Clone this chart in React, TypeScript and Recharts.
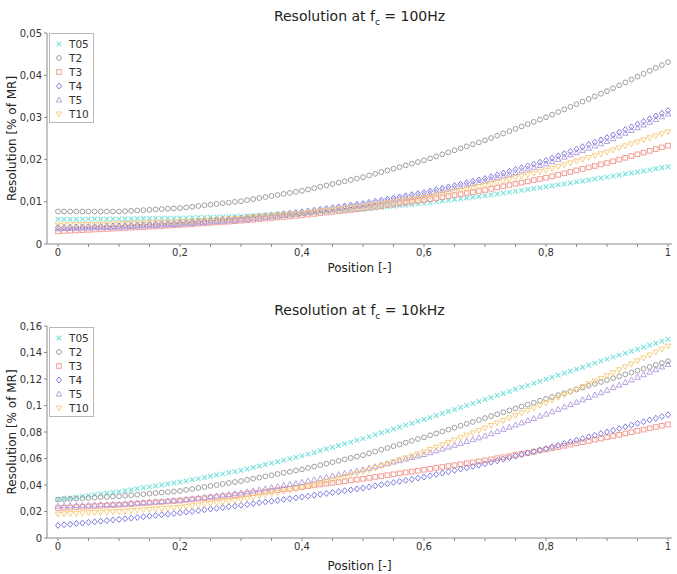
import React from 'react';
import { ScatterChart, Scatter, XAxis, YAxis, Legend } from 'recharts';

// position along the sensor, 0..1
const positions = [
  0, 0.01, 0.02, 0.03, 0.04, 0.05, 0.06, 0.07, 0.08, 0.09,
  0.1, 0.11, 0.12, 0.13, 0.14, 0.15, 0.16, 0.17, 0.18, 0.19,
  0.2, 0.21, 0.22, 0.23, 0.24, 0.25, 0.26, 0.27, 0.28, 0.29,
  0.3, 0.31, 0.32, 0.33, 0.34, 0.35, 0.36, 0.37, 0.38, 0.39,
  0.4, 0.41, 0.42, 0.43, 0.44, 0.45, 0.46, 0.47, 0.48, 0.49,
  0.5, 0.51, 0.52, 0.53, 0.54, 0.55, 0.56, 0.57, 0.58, 0.59,
  0.6, 0.61, 0.62, 0.63, 0.64, 0.65, 0.66, 0.67, 0.68, 0.69,
  0.7, 0.71, 0.72, 0.73, 0.74, 0.75, 0.76, 0.77, 0.78, 0.79,
  0.8, 0.81, 0.82, 0.83, 0.84, 0.85, 0.86, 0.87, 0.88, 0.89,
  0.9, 0.91, 0.92, 0.93, 0.94, 0.95, 0.96, 0.97, 0.98, 0.99,
  1,
];

// resolution at fc = 100Hz
const lowT05 = [
  0.00585, 0.00586, 0.00587, 0.00588, 0.00589, 0.0059, 0.00591, 0.00592, 0.00593, 0.00594,
  0.00595, 0.00597, 0.00599, 0.00601, 0.00603, 0.00605, 0.00607, 0.00609, 0.00611, 0.00613,
  0.00615, 0.00619, 0.00623, 0.00627, 0.00631, 0.00635, 0.00639, 0.00643, 0.00647, 0.00651,
  0.00655, 0.00662, 0.00669, 0.00676, 0.00683, 0.0069, 0.00697, 0.00704, 0.00711, 0.00718,
  0.00725, 0.00735, 0.00745, 0.00755, 0.00765, 0.00775, 0.00785, 0.00795, 0.00805, 0.00815,
  0.00825, 0.00839, 0.00853, 0.00867, 0.00881, 0.00895, 0.00909, 0.00923, 0.00937, 0.00951,
  0.00965, 0.00983, 0.01001, 0.01019, 0.01037, 0.01055, 0.01073, 0.01091, 0.01109, 0.01127,
  0.01145, 0.01166, 0.01187, 0.01208, 0.01229, 0.0125, 0.01271, 0.01292, 0.01313, 0.01334,
  0.01355, 0.01378, 0.01401, 0.01424, 0.01447, 0.0147, 0.01493, 0.01516, 0.01539, 0.01562,
  0.01585, 0.0161, 0.01634, 0.01659, 0.01683, 0.01708, 0.01732, 0.01757, 0.01781, 0.01806,
  0.0183,
];
const lowT2 = [
  0.0077, 0.0077, 0.0077, 0.0077, 0.0077, 0.0077, 0.0077, 0.0077, 0.0077, 0.0077,
  0.0077, 0.00778, 0.00786, 0.00794, 0.00802, 0.00811, 0.00819, 0.00827, 0.00835, 0.00843,
  0.00851, 0.00867, 0.00884, 0.009, 0.00917, 0.00933, 0.00949, 0.00966, 0.00982, 0.00999,
  0.01015, 0.0104, 0.01064, 0.01089, 0.01113, 0.01138, 0.01162, 0.01187, 0.01211, 0.01236,
  0.0126, 0.01292, 0.01325, 0.01357, 0.01389, 0.01422, 0.01454, 0.01486, 0.01518, 0.01551,
  0.01583, 0.01623, 0.01663, 0.01703, 0.01743, 0.01783, 0.01822, 0.01862, 0.01902, 0.01942,
  0.01982, 0.02029, 0.02077, 0.02124, 0.02172, 0.02219, 0.02266, 0.02314, 0.02361, 0.02409,
  0.02456, 0.02511, 0.02566, 0.0262, 0.02675, 0.0273, 0.02785, 0.0284, 0.02894, 0.02949,
  0.03004, 0.03066, 0.03128, 0.03189, 0.03251, 0.03313, 0.03375, 0.03437, 0.03498, 0.0356,
  0.03622, 0.03691, 0.0376, 0.03828, 0.03897, 0.03966, 0.04035, 0.04104, 0.04172, 0.04241,
  0.0431,
];
const lowT3 = [
  0.003, 0.00307, 0.00314, 0.00321, 0.00328, 0.00335, 0.00342, 0.00349, 0.00356, 0.00363,
  0.0037, 0.00378, 0.00386, 0.00394, 0.00402, 0.0041, 0.00418, 0.00426, 0.00434, 0.00442,
  0.0045, 0.0046, 0.0047, 0.0048, 0.0049, 0.005, 0.0051, 0.0052, 0.0053, 0.0054,
  0.0055, 0.00563, 0.00576, 0.00589, 0.00602, 0.00615, 0.00628, 0.00641, 0.00654, 0.00667,
  0.0068, 0.00696, 0.00712, 0.00728, 0.00744, 0.0076, 0.00776, 0.00792, 0.00808, 0.00824,
  0.0084, 0.0086, 0.0088, 0.009, 0.0092, 0.0094, 0.0096, 0.0098, 0.01, 0.0102,
  0.0104, 0.01064, 0.01088, 0.01112, 0.01136, 0.0116, 0.01184, 0.01208, 0.01232, 0.01256,
  0.0128, 0.01309, 0.01338, 0.01367, 0.01396, 0.01425, 0.01454, 0.01483, 0.01512, 0.01541,
  0.0157, 0.01605, 0.0164, 0.01675, 0.0171, 0.01745, 0.0178, 0.01815, 0.0185, 0.01885,
  0.0192, 0.01961, 0.02002, 0.02043, 0.02084, 0.02125, 0.02166, 0.02207, 0.02248, 0.02289,
  0.0233,
];
const lowT4 = [
  0.0039, 0.00394, 0.00398, 0.00402, 0.00406, 0.0041, 0.00414, 0.00418, 0.00422, 0.00426,
  0.0043, 0.00437, 0.00444, 0.00451, 0.00458, 0.00465, 0.00472, 0.00479, 0.00486, 0.00493,
  0.005, 0.00511, 0.00522, 0.00533, 0.00544, 0.00555, 0.00566, 0.00577, 0.00588, 0.00599,
  0.0061, 0.00625, 0.0064, 0.00655, 0.0067, 0.00685, 0.007, 0.00715, 0.0073, 0.00745,
  0.0076, 0.0078, 0.008, 0.0082, 0.0084, 0.0086, 0.0088, 0.009, 0.0092, 0.0094,
  0.0096, 0.00986, 0.01012, 0.01038, 0.01064, 0.0109, 0.01116, 0.01142, 0.01168, 0.01194,
  0.0122, 0.01253, 0.01286, 0.01319, 0.01352, 0.01385, 0.01418, 0.01451, 0.01484, 0.01517,
  0.0155, 0.01593, 0.01636, 0.01679, 0.01722, 0.01765, 0.01808, 0.01851, 0.01894, 0.01937,
  0.0198, 0.02034, 0.02088, 0.02142, 0.02196, 0.0225, 0.02304, 0.02358, 0.02412, 0.02466,
  0.0252, 0.02584, 0.02648, 0.02712, 0.02776, 0.0284, 0.02904, 0.02968, 0.03032, 0.03096,
  0.0316,
];
const lowT5 = [
  0.0036, 0.00364, 0.00368, 0.00372, 0.00376, 0.0038, 0.00384, 0.00388, 0.00392, 0.00396,
  0.004, 0.00407, 0.00414, 0.00421, 0.00428, 0.00435, 0.00442, 0.00449, 0.00456, 0.00463,
  0.0047, 0.0048, 0.0049, 0.005, 0.0051, 0.0052, 0.0053, 0.0054, 0.0055, 0.0056,
  0.0057, 0.00585, 0.006, 0.00615, 0.0063, 0.00645, 0.0066, 0.00675, 0.0069, 0.00705,
  0.0072, 0.0074, 0.0076, 0.0078, 0.008, 0.0082, 0.0084, 0.0086, 0.0088, 0.009,
  0.0092, 0.00945, 0.0097, 0.00995, 0.0102, 0.01045, 0.0107, 0.01095, 0.0112, 0.01145,
  0.0117, 0.01202, 0.01234, 0.01266, 0.01298, 0.0133, 0.01362, 0.01394, 0.01426, 0.01458,
  0.0149, 0.01531, 0.01572, 0.01613, 0.01654, 0.01695, 0.01736, 0.01777, 0.01818, 0.01859,
  0.019, 0.01953, 0.02006, 0.02059, 0.02112, 0.02165, 0.02218, 0.02271, 0.02324, 0.02377,
  0.0243, 0.02495, 0.0256, 0.02625, 0.0269, 0.02755, 0.0282, 0.02885, 0.0295, 0.03015,
  0.0308,
];
const lowT10 = [
  0.0045, 0.00453, 0.00456, 0.00459, 0.00462, 0.00465, 0.00468, 0.00471, 0.00474, 0.00477,
  0.0048, 0.00485, 0.0049, 0.00495, 0.005, 0.00505, 0.0051, 0.00515, 0.0052, 0.00525,
  0.0053, 0.00538, 0.00546, 0.00554, 0.00562, 0.0057, 0.00578, 0.00586, 0.00594, 0.00602,
  0.0061, 0.00622, 0.00634, 0.00646, 0.00658, 0.0067, 0.00682, 0.00694, 0.00706, 0.00718,
  0.0073, 0.00746, 0.00762, 0.00778, 0.00794, 0.0081, 0.00826, 0.00842, 0.00858, 0.00874,
  0.0089, 0.00911, 0.00932, 0.00953, 0.00974, 0.00995, 0.01016, 0.01037, 0.01058, 0.01079,
  0.011, 0.01129, 0.01158, 0.01187, 0.01216, 0.01245, 0.01274, 0.01303, 0.01332, 0.01361,
  0.0139, 0.01426, 0.01462, 0.01498, 0.01534, 0.0157, 0.01606, 0.01642, 0.01678, 0.01714,
  0.0175, 0.01793, 0.01836, 0.01879, 0.01922, 0.01965, 0.02008, 0.02051, 0.02094, 0.02137,
  0.0218, 0.02228, 0.02276, 0.02324, 0.02372, 0.0242, 0.02468, 0.02516, 0.02564, 0.02612,
  0.0266,
];

// resolution at fc = 10kHz
const highT05 = [
  0.029, 0.0296, 0.0302, 0.0308, 0.0314, 0.032, 0.0326, 0.0332, 0.0338, 0.0344,
  0.035, 0.0357, 0.0364, 0.0372, 0.0379, 0.0386, 0.0393, 0.04, 0.0408, 0.0415,
  0.0422, 0.0431, 0.044, 0.0448, 0.0457, 0.0466, 0.0475, 0.0484, 0.0492, 0.0501,
  0.051, 0.0521, 0.0532, 0.0543, 0.0554, 0.0565, 0.0576, 0.0587, 0.0598, 0.0609,
  0.062, 0.0633, 0.0646, 0.0659, 0.0672, 0.0685, 0.0698, 0.0711, 0.0724, 0.0737,
  0.075, 0.0765, 0.0779, 0.0794, 0.0808, 0.0823, 0.0837, 0.0852, 0.0866, 0.0881,
  0.0895, 0.091, 0.0925, 0.094, 0.0955, 0.097, 0.0985, 0.1, 0.1015, 0.103,
  0.1045, 0.106, 0.1076, 0.1091, 0.1106, 0.1122, 0.1137, 0.1152, 0.1167, 0.1183,
  0.1198, 0.1213, 0.1228, 0.1244, 0.1259, 0.1274, 0.1289, 0.1304, 0.132, 0.1335,
  0.135, 0.1365, 0.138, 0.1395, 0.141, 0.1425, 0.144, 0.1455, 0.147, 0.1485,
  0.15,
];
const highT2 = [
  0.029, 0.0293, 0.0295, 0.0298, 0.03, 0.0303, 0.0305, 0.0308, 0.031, 0.0313,
  0.0315, 0.0319, 0.0323, 0.0327, 0.0331, 0.0335, 0.0339, 0.0343, 0.0347, 0.0351,
  0.0355, 0.0363, 0.037, 0.0378, 0.0385, 0.0393, 0.04, 0.0408, 0.0415, 0.0423,
  0.043, 0.0439, 0.0448, 0.0456, 0.0465, 0.0474, 0.0483, 0.0492, 0.05, 0.0509,
  0.0518, 0.0529, 0.0539, 0.055, 0.0561, 0.0572, 0.0582, 0.0593, 0.0604, 0.0614,
  0.0625, 0.0639, 0.0652, 0.0666, 0.0679, 0.0693, 0.0706, 0.072, 0.0733, 0.0747,
  0.076, 0.0775, 0.0789, 0.0804, 0.0818, 0.0833, 0.0847, 0.0862, 0.0876, 0.0891,
  0.0905, 0.092, 0.0934, 0.0949, 0.0963, 0.0978, 0.0992, 0.1007, 0.1021, 0.1036,
  0.105, 0.1064, 0.1078, 0.1093, 0.1107, 0.1121, 0.1135, 0.1149, 0.1164, 0.1178,
  0.1192, 0.1206, 0.122, 0.1235, 0.1249, 0.1263, 0.1277, 0.1291, 0.1306, 0.132,
  0.1334,
];
const highT3 = [
  0.0225, 0.0228, 0.023, 0.0233, 0.0235, 0.0238, 0.024, 0.0243, 0.0245, 0.0248,
  0.025, 0.0253, 0.0256, 0.026, 0.0263, 0.0266, 0.0269, 0.0272, 0.0276, 0.0279,
  0.0282, 0.0287, 0.0291, 0.0296, 0.03, 0.0305, 0.0309, 0.0314, 0.0318, 0.0323,
  0.0327, 0.0333, 0.0339, 0.0344, 0.035, 0.0356, 0.0362, 0.0368, 0.0373, 0.0379,
  0.0385, 0.0391, 0.0397, 0.0404, 0.041, 0.0416, 0.0422, 0.0428, 0.0435, 0.0441,
  0.0447, 0.0454, 0.0461, 0.0467, 0.0474, 0.0481, 0.0488, 0.0495, 0.0501, 0.0508,
  0.0515, 0.0522, 0.0529, 0.0536, 0.0543, 0.055, 0.0557, 0.0564, 0.0571, 0.0578,
  0.0585, 0.0593, 0.0602, 0.061, 0.0618, 0.0627, 0.0635, 0.0643, 0.0651, 0.066,
  0.0668, 0.0677, 0.0686, 0.0696, 0.0705, 0.0714, 0.0723, 0.0732, 0.0742, 0.0751,
  0.076, 0.077, 0.0779, 0.0789, 0.0799, 0.0809, 0.0818, 0.0828, 0.0838, 0.0847,
  0.0857,
];
const highT4 = [
  0.0095, 0.01, 0.0104, 0.0109, 0.0113, 0.0118, 0.0122, 0.0127, 0.0131, 0.0136,
  0.014, 0.0145, 0.015, 0.0155, 0.016, 0.0165, 0.017, 0.0175, 0.018, 0.0185,
  0.019, 0.0196, 0.0201, 0.0207, 0.0213, 0.0219, 0.0224, 0.023, 0.0236, 0.0241,
  0.0247, 0.0253, 0.0259, 0.0266, 0.0272, 0.0278, 0.0284, 0.029, 0.0297, 0.0303,
  0.0309, 0.0316, 0.0323, 0.0329, 0.0336, 0.0343, 0.035, 0.0357, 0.0363, 0.037,
  0.0377, 0.0385, 0.0394, 0.0402, 0.041, 0.0419, 0.0427, 0.0435, 0.0443, 0.0452,
  0.046, 0.047, 0.048, 0.049, 0.05, 0.051, 0.052, 0.053, 0.054, 0.055,
  0.056, 0.0572, 0.0583, 0.0595, 0.0606, 0.0618, 0.0629, 0.0641, 0.0652, 0.0664,
  0.0675, 0.0688, 0.07, 0.0713, 0.0725, 0.0738, 0.075, 0.0763, 0.0775, 0.0788,
  0.08, 0.0813, 0.0826, 0.0839, 0.0852, 0.0865, 0.0878, 0.0891, 0.0904, 0.0917,
  0.093,
];
const highT5 = [
  0.024, 0.0242, 0.0243, 0.0245, 0.0246, 0.0248, 0.0249, 0.0251, 0.0252, 0.0254,
  0.0255, 0.0258, 0.0261, 0.0264, 0.0267, 0.027, 0.0273, 0.0276, 0.0279, 0.0282,
  0.0285, 0.0291, 0.0296, 0.0302, 0.0307, 0.0313, 0.0318, 0.0324, 0.0329, 0.0335,
  0.034, 0.0348, 0.0356, 0.0364, 0.0372, 0.038, 0.0388, 0.0396, 0.0404, 0.0412,
  0.042, 0.043, 0.0439, 0.0449, 0.0458, 0.0468, 0.0477, 0.0487, 0.0496, 0.0506,
  0.0515, 0.0527, 0.0538, 0.055, 0.0561, 0.0573, 0.0584, 0.0596, 0.0607, 0.0619,
  0.063, 0.0644, 0.0658, 0.0672, 0.0686, 0.07, 0.0714, 0.0728, 0.0742, 0.0756,
  0.077, 0.0787, 0.0803, 0.082, 0.0836, 0.0853, 0.0869, 0.0886, 0.0902, 0.0919,
  0.0935, 0.0953, 0.0971, 0.0989, 0.1007, 0.1025, 0.1043, 0.1061, 0.1079, 0.1097,
  0.1115, 0.1135, 0.1154, 0.1174, 0.1193, 0.1213, 0.1232, 0.1252, 0.1271, 0.1291,
  0.131,
];
const highT10 = [
  0.018, 0.0182, 0.0184, 0.0186, 0.0188, 0.019, 0.0192, 0.0194, 0.0196, 0.0198,
  0.02, 0.0203, 0.0206, 0.021, 0.0213, 0.0216, 0.0219, 0.0222, 0.0226, 0.0229,
  0.0232, 0.0238, 0.0244, 0.0249, 0.0255, 0.0261, 0.0267, 0.0273, 0.0278, 0.0284,
  0.029, 0.0299, 0.0308, 0.0317, 0.0326, 0.0335, 0.0344, 0.0353, 0.0362, 0.0371,
  0.038, 0.0392, 0.0404, 0.0416, 0.0428, 0.044, 0.0452, 0.0464, 0.0476, 0.0488,
  0.05, 0.0515, 0.053, 0.0545, 0.056, 0.0575, 0.059, 0.0605, 0.062, 0.0635,
  0.065, 0.0668, 0.0686, 0.0704, 0.0722, 0.074, 0.0758, 0.0776, 0.0794, 0.0812,
  0.083, 0.0849, 0.0868, 0.0887, 0.0906, 0.0925, 0.0944, 0.0963, 0.0982, 0.1001,
  0.102, 0.1041, 0.1061, 0.1082, 0.1102, 0.1123, 0.1143, 0.1164, 0.1184, 0.1205,
  0.1225, 0.1247, 0.127, 0.1292, 0.1314, 0.1337, 0.1359, 0.1381, 0.1403, 0.1426,
  0.1448,
];

const seriesNames = ['T05', 'T2', 'T3', 'T4', 'T5', 'T10'];
const seriesColors = ['#6fe0da', '#939393', '#f29288', '#6f6fdc', '#ae98dc', '#f5c873'];
const seriesShapes = ['cross', 'circle', 'square', 'diamond', 'triangle', 'triangleDown'];

const lowSeries = [lowT05, lowT2, lowT3, lowT4, lowT5, lowT10];
const highSeries = [highT05, highT2, highT3, highT4, highT5, highT10];

const xTicks = [0, 0.05, 0.1, 0.15, 0.2, 0.25, 0.3, 0.35, 0.4, 0.45, 0.5, 0.55, 0.6, 0.65, 0.7, 0.75, 0.8, 0.85, 0.9, 0.95, 1];
const lowTicks = [0, 0.01, 0.02, 0.03, 0.04, 0.05];
const highTicks = [0, 0.02, 0.04, 0.06, 0.08, 0.1, 0.12, 0.14, 0.16];

const comma = (v: number) => String(v).replace('.', ',');
const xLabel = (v: number) => (Math.abs(v * 5 - Math.round(v * 5)) < 1e-6 ? comma(v) : '');

function Marker({ kind, color, cx, cy }: { kind: string; color: string; cx: number; cy: number }) {
  const common = { fill: 'none', stroke: color, strokeWidth: 1, strokeOpacity: 0.9 };
  switch (kind) {
    case 'circle':
      return <circle cx={cx} cy={cy} r={2.4} {...common} />;
    case 'square':
      return <rect x={cx - 2.3} y={cy - 2.3} width={4.6} height={4.6} {...common} />;
    case 'diamond':
      return <polygon points={`${cx},${cy - 3} ${cx + 2.5},${cy} ${cx},${cy + 3} ${cx - 2.5},${cy}`} {...common} />;
    case 'triangle':
      return <polygon points={`${cx},${cy - 3} ${cx + 2.8},${cy + 2} ${cx - 2.8},${cy + 2}`} {...common} />;
    case 'triangleDown':
      return <polygon points={`${cx},${cy + 3} ${cx + 2.8},${cy - 2} ${cx - 2.8},${cy - 2}`} {...common} />;
    default:
      return (
        <path
          d={`M${cx - 2.3},${cy - 2.3}L${cx + 2.3},${cy + 2.3}M${cx - 2.3},${cy + 2.3}L${cx + 2.3},${cy - 2.3}`}
          {...common}
          strokeWidth={1.2}
        />
      );
  }
}

const LegendBox = () => (
  <div
    style={{
      border: '1px solid #b8b8b8',
      background: '#fff',
      padding: '3px 4px 1px 3px',
      fontSize: 10.5,
      lineHeight: '14px',
      color: '#333',
    }}
  >
    {seriesNames.map((name, i) => (
      <div key={name} style={{ display: 'flex', alignItems: 'center', height: 14 }}>
        <svg width={12} height={10} style={{ marginRight: 4 }}>
          <Marker kind={seriesShapes[i]} color={seriesColors[i]} cx={6} cy={5} />
        </svg>
        <span>{name}</span>
      </div>
    ))}
  </div>
);

interface PanelProps {
  top: number;
  height: number;
  title: React.ReactNode;
  titleTop: number;
  plotTop: number;
  xAxisHeight: number;
  xLabelOffset: number;
  legendTop: number;
  yMax: number;
  yTicks: number[];
  series: number[][];
}

function Panel({ top, height, title, titleTop, plotTop, xAxisHeight, xLabelOffset, legendTop, yMax, yTicks, series }: PanelProps) {
  return (
    <div style={{ position: 'absolute', left: 0, top, width: 677, height }}>
      <ScatterChart width={677} height={height} margin={{ top: plotTop, right: 5, bottom: 0, left: 0 }}>
        <XAxis
          type="number"
          dataKey="x"
          domain={[0, 1]}
          ticks={xTicks}
          interval={0}
          tickFormatter={xLabel}
          padding={{ left: 11, right: 4 }}
          height={xAxisHeight}
          stroke="#8a8a8a"
          tickSize={3}
          tick={{ fontSize: 10, fill: '#333' }}
          label={{ value: 'Position [-]', position: 'insideBottom', offset: xLabelOffset, style: { fontSize: 12, fill: '#222' } }}
        />
        <YAxis
          type="number"
          dataKey="y"
          domain={[0, yMax]}
          ticks={yTicks}
          interval={0}
          tickFormatter={comma}
          width={47}
          stroke="#8a8a8a"
          tickSize={3}
          tick={{ fontSize: 10, fill: '#333' }}
          label={{
            value: 'Resolution [% of MR]',
            angle: -90,
            position: 'insideLeft',
            offset: 12,
            style: { textAnchor: 'middle', fontSize: 12, fill: '#222' },
          }}
        />
        {series.map((values, i) => (
          <Scatter
            key={seriesNames[i]}
            name={seriesNames[i]}
            data={positions.map((x, j) => ({ x, y: values[j] }))}
            isAnimationActive={false}
            shape={(p: any) => <Marker kind={seriesShapes[i]} color={seriesColors[i]} cx={p.cx} cy={p.cy} />}
          />
        ))}
        <Legend
          layout="vertical"
          align="center"
          verticalAlign="middle"
          wrapperStyle={{ left: 49, top: legendTop, width: 'auto', height: 'auto' }}
          content={() => <LegendBox />}
        />
      </ScatterChart>
      <div
        style={{
          position: 'absolute',
          left: 47,
          width: 625,
          top: titleTop,
          textAlign: 'center',
          fontSize: 14,
          color: '#222',
          lineHeight: '17px',
        }}
      >
        {title}
      </div>
    </div>
  );
}

const App: React.FC = () => (
  <div
    style={{
      position: 'absolute',
      left: 0,
      top: 0,
      width: 677,
      height: 574,
      background: '#fff',
      fontFamily: '"DejaVu Sans", Verdana, sans-serif',
    }}
  >
    <Panel
      top={0}
      height={290}
      title={<span>Resolution at f<sub style={{ fontSize: 9 }}>c</sub> = 100Hz</span>}
      titleTop={8}
      plotTop={33}
      xAxisHeight={46}
      xLabelOffset={18}
      legendTop={33}
      yMax={0.05}
      yTicks={lowTicks}
      series={lowSeries}
    />
    <Panel
      top={290}
      height={284}
      title={<span>Resolution at f<sub style={{ fontSize: 9 }}>c</sub> = 10kHz</span>}
      titleTop={12}
      plotTop={36}
      xAxisHeight={36}
      xLabelOffset={4}
      legendTop={37}
      yMax={0.16}
      yTicks={highTicks}
      series={highSeries}
    />
  </div>
);

export default App;
